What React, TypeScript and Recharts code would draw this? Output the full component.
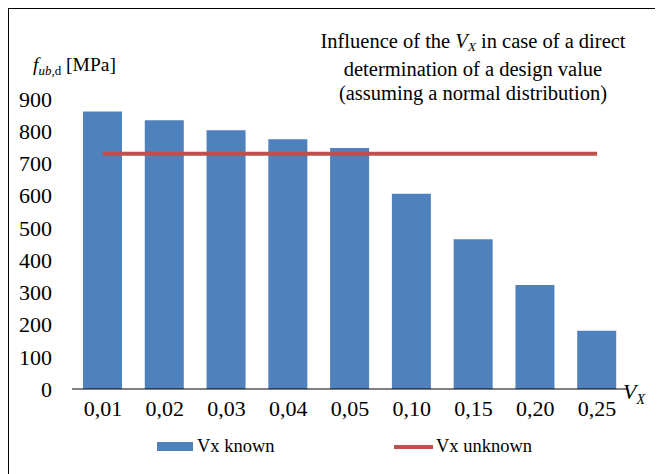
import React from "react";
import { ComposedChart, Bar, Line, XAxis, YAxis } from "recharts";

const categories = ["0,01", "0,02", "0,03", "0,04", "0,05", "0,10", "0,15", "0,20", "0,25"];
const vxKnown = [861, 834, 803, 775, 748, 606, 465, 323, 181];
const vxUnknown = [730, 730, 730, 730, 730, 730, 730, 730, 730];
const yTicks = [0, 100, 200, 300, 400, 500, 600, 700, 800, 900];

const data = categories.map((c, i) => ({ vx: c, known: vxKnown[i], unknown: vxUnknown[i] }));

const serif = "Tinos, 'Liberation Serif'";

export default function App() {
  return (
    <div
      className="frame"
      style={{
        position: "relative",
        width: 655,
        height: 466,
        borderTop: "1px solid #000",
        borderLeft: "1px solid #000",
        color: "#000",
        overflow: "hidden",
      }}
    >
      <style>{`.frame, .frame div, .frame span, .frame svg text { font-family: Tinos, "Liberation Serif"; }`}</style>
      <ComposedChart
        width={655}
        height={466}
        data={data}
        margin={{ top: 90, right: 36, left: 0, bottom: 46 }}
      >
        <XAxis
          dataKey="vx"
          axisLine={{ stroke: "#000", strokeWidth: 1.2 }}
          tickLine={false}
          tickSize={0}
          tickMargin={11}
          height={40}
          tick={{ fontSize: 22, fill: "#000", fontFamily: serif }}
        />
        <YAxis
          domain={[0, 900]}
          ticks={yTicks}
          axisLine={false}
          tickLine={false}
          tickSize={0}
          tickMargin={20}
          width={63}
          tick={{ fontSize: 22, fill: "#000", fontFamily: serif }}
        />
        <Bar dataKey="known" fill="#4F81BD" barSize={39} isAnimationActive={false} />
        <Line
          dataKey="unknown"
          stroke="#C0504D"
          strokeWidth={4}
          dot={false}
          activeDot={false}
          isAnimationActive={false}
        />
      </ComposedChart>

      {/* y axis title */}
      <div style={{ position: "absolute", left: 24, top: 45, fontSize: 19.5, whiteSpace: "nowrap" }}>
        <i>f</i>
        <span style={{ fontSize: 13, position: "relative", top: 4 }}>
          <i>ub,</i>d
        </span>{" "}
        [MPa]
      </div>

      {/* chart title */}
      <div
        style={{
          position: "absolute",
          left: 274,
          top: 20,
          width: 380,
          textAlign: "center",
          fontSize: 20.5,
          lineHeight: "24.5px",
        }}
      >
        Influence of the <i>V</i>
        <span style={{ fontSize: 13, position: "relative", top: 3 }}>
          <i>X</i>
        </span>{" "}
        in case of a direct
        <br />
        determination of a design value
        <br />
        (assuming a normal distribution)
      </div>

      {/* x axis title */}
      <div style={{ position: "absolute", left: 614, top: 370, fontSize: 22, whiteSpace: "nowrap" }}>
        <i>V</i>
        <span style={{ fontSize: 14, position: "relative", top: 5 }}>
          <i>X</i>
        </span>
      </div>

      {/* legend */}
      <div style={{ position: "absolute", left: 148, top: 427, fontSize: 18.5, display: "flex", alignItems: "center" }}>
        <span style={{ display: "inline-block", width: 36, height: 9, background: "#4F81BD", marginRight: 4 }} />
        <span>Vx known</span>
      </div>
      <div style={{ position: "absolute", left: 385, top: 427, fontSize: 18.5, display: "flex", alignItems: "center" }}>
        <span style={{ display: "inline-block", width: 39, height: 4, background: "#C0504D", marginRight: 3 }} />
        <span>Vx unknown</span>
      </div>
    </div>
  );
}
